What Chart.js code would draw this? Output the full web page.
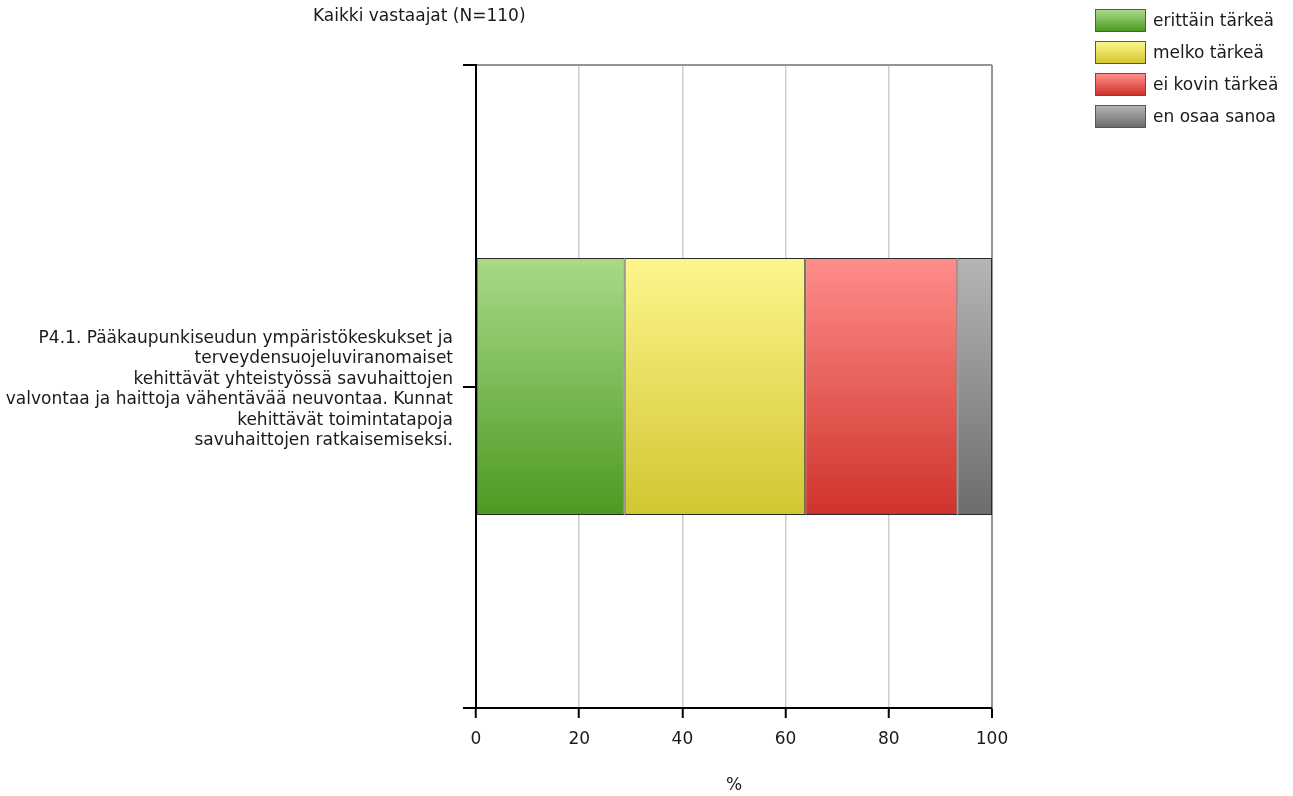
<!DOCTYPE html>
<html>
<head>
<meta charset="utf-8">
<script src="https://cdn.jsdelivr.net/npm/chart.js@4/dist/chart.umd.min.js"></script>
<style>
  body { margin: 0; background: #fff; font-family: "DejaVu Sans", Verdana, sans-serif; }
  #wrap { position: relative; width: 1293px; height: 796px; }
  #otsikko { position: absolute; left: 313px; top: 5px; font-size: 17px; color: #1a1a1a; white-space: nowrap; }
  #selite { position: absolute; left: 1095px; top: 9px; }
  .rivi { height: 32px; display: flex; align-items: flex-start; }
  .laatikko { width: 49px; height: 21px; border: 1px solid #555; box-sizing: content-box; }
  .teksti { margin-left: 7px; font-size: 17px; color: #1a1a1a; line-height: 22px; white-space: nowrap; }
</style>
</head>
<body>
<div id="wrap">
  <canvas id="kaavio" width="1293" height="796"></canvas>
  <div id="otsikko">Kaikki vastaajat (N=110)</div>
  <div id="selite"></div>
</div>
<script>
var kysymykset = [[
    'P4.1. Pääkaupunkiseudun ympäristökeskukset ja',
    'terveydensuojeluviranomaiset',
    'kehittävät yhteistyössä savuhaittojen',
    'valvontaa ja haittoja vähentävää neuvontaa. Kunnat',
    'kehittävät toimintatapoja',
    'savuhaittojen ratkaisemiseksi.'
]];
var vastaukset = ['erittäin tärkeä', 'melko tärkeä', 'ei kovin tärkeä', 'en osaa sanoa'];
var erittainTarkea = [28.8];
var melkoTarkea = [35.0];
var eiKovinTarkea = [29.5];
var enOsaaSanoa = [6.7];
var xTikit = [0, 20, 40, 60, 80, 100];

// värit: [ylä, ala]
var varit = [
    ['#a9da88', '#4c9a22'],
    ['#fdf68c', '#d2c630'],
    ['#ff8d8a', '#cf332b'],
    ['#b5b5b5', '#6c6c6c']
];
var sarjat = [erittainTarkea, melkoTarkea, eiKovinTarkea, enOsaaSanoa];
var palkinOsuus = 0.4;

function liukuvari(i) {
    return function(ctx) {
        var chart = ctx.chart;
        var alue = chart.chartArea;
        if (!alue) return varit[i][1];
        var yc = chart.scales.y.getPixelForValue(ctx.dataIndex || 0);
        var puoli = (alue.bottom - alue.top) / kysymykset.length * palkinOsuus / 2;
        var g = chart.ctx.createLinearGradient(0, yc - puoli, 0, yc + puoli);
        g.addColorStop(0, varit[i][0]);
        g.addColorStop(1, varit[i][1]);
        return g;
    };
}

var datasets = [];
for (var i = 0; i < vastaukset.length; i++) {
    datasets.push({
        label: vastaukset[i],
        data: sarjat[i],
        backgroundColor: liukuvari(i),
        borderColor: '#2a2a2a',
        borderWidth: 1,
        borderSkipped: false,
        categoryPercentage: 1,
        barPercentage: palkinOsuus
    });
}

// selite html:nä
var selite = document.getElementById('selite');
vastaukset.forEach(function(v, i) {
    selite.innerHTML += '<div class="rivi"><div class="laatikko" style="background:linear-gradient(' +
        varit[i][0] + ',' + varit[i][1] + ')"></div><div class="teksti">' + v + '</div></div>';
});

// keskimmäinen tikki y-akselille
var keskiTikki = {
    id: 'keskiTikki',
    afterDraw: function(chart) {
        var y = chart.scales.y;
        var c = chart.ctx;
        c.save();
        c.strokeStyle = '#000';
        c.lineWidth = 2;
        kysymykset.forEach(function(k, i) {
            var py = Math.round(y.getPixelForValue(i));
            c.beginPath();
            c.moveTo(y.right - 13, py);
            c.lineTo(y.right, py);
            c.stroke();
        });
        c.restore();
    }
};

Chart.defaults.font.family = '"DejaVu Sans", Verdana, sans-serif';
Chart.defaults.color = '#1a1a1a';

new Chart(document.getElementById('kaavio'), {
    type: 'bar',
    data: { labels: kysymykset, datasets: datasets },
    plugins: [keskiTikki],
    options: {
        indexAxis: 'y',
        responsive: false,
        animation: false,
        layout: { padding: { top: 65, right: 301, left: 0, bottom: 0 } },
        plugins: {
            legend: { display: false },
            tooltip: { enabled: false }
        },
        scales: {
            x: {
                stacked: true,
                min: 0,
                max: 100,
                z: 1,
                afterFit: function(s) { s.height = 88; },
                afterBuildTicks: function(s) { s.ticks = xTikit.map(function(v) { return { value: v }; }); },
                ticks: { font: { size: 17 }, padding: 11 },
                grid: {
                    color: function(c) { return c.tick && c.tick.value === 100 ? '#8c969c' : 'rgba(0,0,0,0.2)'; },
                    lineWidth: function(c) { return c.tick && c.tick.value === 100 ? 2 : 1.5; },
                    tickColor: '#000',
                    tickLength: 10,
                    tickWidth: 2
                },
                border: { color: '#000', width: 2 },
                title: { display: true, text: '%', font: { size: 17 }, padding: { top: 0, bottom: 0 } }
            },
            y: {
                stacked: true,
                z: 1,
                afterFit: function(s) {
                    s.width = 476;
                    // monirivinen otsake ei saa kaventaa piirtoaluetta
                    s.paddingTop = 0;
                    s.paddingBottom = 0;
                },
                ticks: { font: { size: 17, lineHeight: 1.2 }, padding: 10, labelOffset: 3 },
                grid: {
                    offset: true,
                    color: '#8c969c',
                    lineWidth: 2,
                    tickColor: '#000',
                    tickLength: 13,
                    tickWidth: 2
                },
                border: { color: '#000', width: 2 }
            }
        }
    }
});
</script>
</body>
</html>
